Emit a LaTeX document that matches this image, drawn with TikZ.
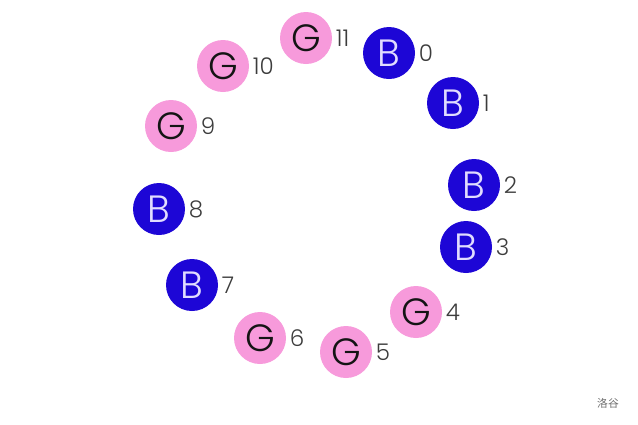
\documentclass[tikz,border=0pt]{standalone}
\usepackage{fontspec}
\setmainfont{Poppins Light}
\newfontfamily\cjk{Noto Sans CJK SC}
\definecolor{beadB}{RGB}{29,6,214}
\definecolor{beadG}{RGB}{247,154,219}
\definecolor{inkB}{RGB}{225,220,255}
\definecolor{inkG}{RGB}{20,20,20}
\definecolor{labelgray}{RGB}{60,60,60}
\definecolor{markgray}{RGB}{110,110,110}
\begin{document}
\begin{tikzpicture}[
  x=0.5pt, y=-0.5pt,
  bead/.style={circle, minimum size=26pt, inner sep=0pt,
    fill=bead#1, text=ink#1, font=\fontsize{19}{20}\selectfont,
    label={[label distance=1.5pt, inner sep=0pt, text=labelgray,
      font=\fontsize{11.5}{13}\selectfont]right:\n}}
]
\useasboundingbox (0,0) rectangle (638,424);
% beads round the ring, numbered clockwise from the top
\foreach \x/\y/\c/\n in {389/53/B/0, 453/103/B/1, 474/185/B/2, 466/247/B/3,
  416/312/G/4, 346/352/G/5, 260/338/G/6, 192/285/B/7,
  159/209/B/8, 171/126/G/9, 223/66/G/10, 306/38/G/11}
  \node[bead=\c] (bead\n) at (\x,\y) {\c};
\node[font=\cjk\fontsize{5.4}{6}\selectfont, text=markgray] (mark) at (608,403) {洛谷};
\end{tikzpicture}
\end{document}
